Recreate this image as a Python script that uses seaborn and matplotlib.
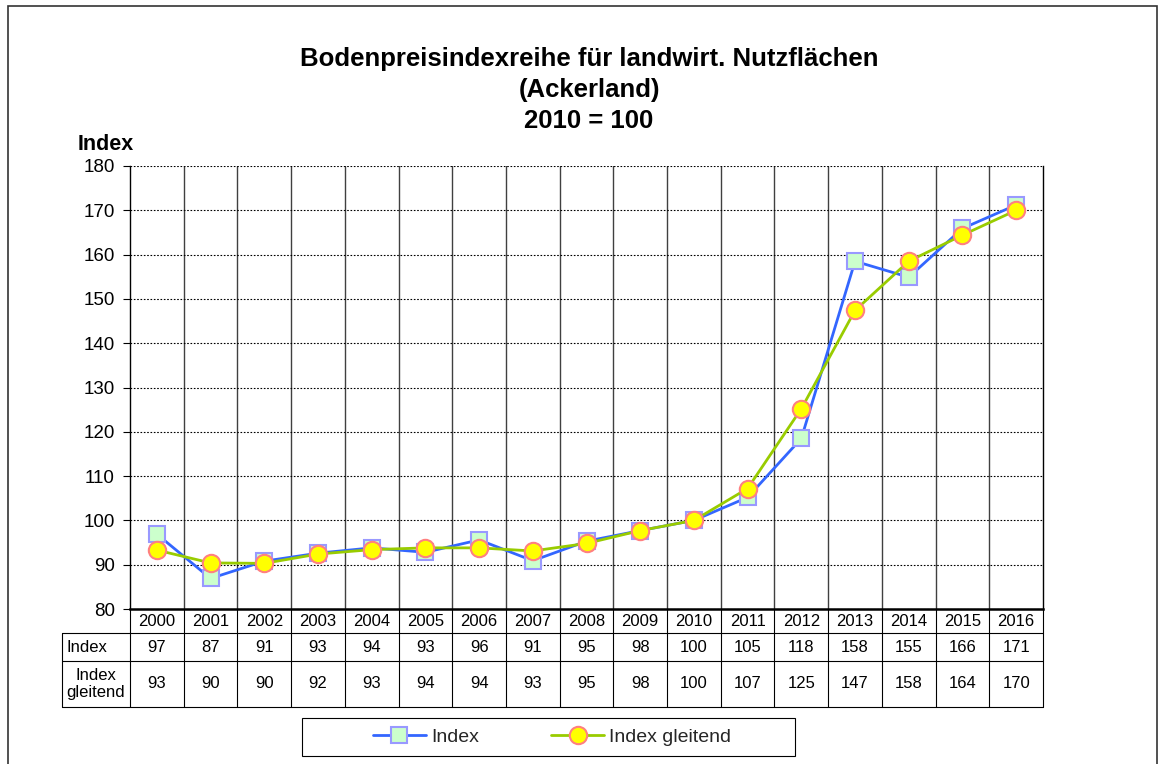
import numpy as np
import pandas as pd
import matplotlib
matplotlib.use("Agg")
import matplotlib.pyplot as plt
import seaborn as sns
from matplotlib.lines import Line2D
from matplotlib.patches import Rectangle
from matplotlib.transforms import blended_transform_factory

# ---------------- data ----------------
years = [2000, 2001, 2002, 2003, 2004, 2005, 2006, 2007, 2008,
         2009, 2010, 2011, 2012, 2013, 2014, 2015, 2016]
index_vals = [96.9, 86.9, 90.8, 92.6, 93.8, 92.8, 95.6, 90.9, 95.3,
              97.7, 100.0, 105.2, 118.5, 158.5, 154.9, 165.9, 171.2]
gleitend_vals = [93.3, 90.4, 90.3, 92.4, 93.4, 93.8, 93.8, 93.1, 94.8,
                 97.7, 100.0, 107.2, 125.2, 147.4, 158.5, 164.4, 170.0]
index_table = [97, 87, 91, 93, 94, 93, 96, 91, 95, 98, 100, 105, 118, 158, 155, 166, 171]
gleitend_table = [93, 90, 90, 92, 93, 94, 94, 93, 95, 98, 100, 107, 125, 147, 158, 164, 170]
y_ticks = [80, 90, 100, 110, 120, 130, 140, 150, 160, 170, 180]
series_names = ["Index", "Index gleitend"]
row_labels = ["Index", "Index\ngleitend"]
title = "Bodenpreisindexreihe für landwirt. Nutzflächen\n(Ackerland)\n2010 = 100"
y_label = "Index"

# ---------------- style ----------------
sns.set_theme(style="white")
plt.rcParams["font.family"] = ["Liberation Sans", "DejaVu Sans"]

W, H = 1162, 764
fig = plt.figure(figsize=(W / 100, H / 100), dpi=100)
fx = lambda px: px / W
fy = lambda py: 1 - py / H

L, R, T, B = 130, 1043, 166, 609
ax = fig.add_axes([fx(L), fy(B), fx(R) - fx(L), fy(T) - fy(B)])

pos = np.arange(len(years))
df = pd.DataFrame({"pos": pos, "Index": index_vals, "Index gleitend": gleitend_vals})

sns.lineplot(data=df, x="pos", y="Index", ax=ax, color="#3366ff", lw=2.0,
             marker="s", markersize=11.5, markerfacecolor="#ccffcc",
             markeredgecolor="#9999ff", markeredgewidth=1.5, legend=False, zorder=3)
sns.lineplot(data=df, x="pos", y="Index gleitend", ax=ax, color="#99cc00", lw=2.0,
             marker="o", markersize=12.5, markerfacecolor="#ffff00",
             markeredgecolor="#ff8080", markeredgewidth=1.5, legend=False, zorder=4)

ax.set_xlim(-0.5, len(years) - 0.5)
ax.set_ylim(y_ticks[0], y_ticks[-1])
ax.set_yticks(y_ticks)
ax.set_yticklabels([str(v) for v in y_ticks], fontsize=13.5)
ax.set_xticks([])
ax.set_xticks(np.arange(0.5, len(years) - 0.5, 1), minor=True)
ax.tick_params(axis="x", which="both", length=0, labelbottom=False)
ax.tick_params(axis="y", which="major", length=5, width=0.8, color="black",
               direction="out", left=True, pad=6, labelcolor="black")
ax.set_xlabel("")
ax.set_ylabel("")
ax.grid(False)
ax.yaxis.grid(True, which="major", color="black", linestyle=(0, (1.5, 1.5)), lw=0.8)
ax.xaxis.grid(True, which="minor", color="#404040", linestyle="-", lw=1.0)
for side in ["left", "right"]:
    ax.spines[side].set_color("black")
    ax.spines[side].set_linewidth(1.0)
ax.spines["bottom"].set_color("black")
ax.spines["bottom"].set_linewidth(1.8)
ax.spines["top"].set_visible(False)

# ---------------- title & label ----------------
fig.text(fx(589), fy(90), title, ha="center", va="center", fontsize=18.5,
         fontweight="bold", linespacing=1.35, color="black")
fig.text(fx(78), fy(145), y_label, ha="left", va="center", fontsize=15.5,
         fontweight="bold", color="black")

# ---------------- data table ----------------
tr = blended_transform_factory(ax.transData, fig.transFigure)
n = len(years)
r0, r1, r2, r3 = 609, 633, 661, 707
xl = -0.5
xlab = xl - (L - 62) / ((R - L) / n)  # label column left edge in data units
fs_tab = 12

def hline(x0, x1, py, lw=0.8):
    fig.add_artist(Line2D([x0, x1], [fy(py), fy(py)], transform=tr, color="black", lw=lw))

def vline(x, py0, py1, lw=0.8):
    fig.add_artist(Line2D([x, x], [fy(py0), fy(py1)], transform=tr, color="black", lw=lw))

for py in (r1, r2, r3):
    hline(xlab, n - 0.5, py)
for i in range(n + 1):
    vline(i - 0.5, r0, r3)
vline(xlab, r1, r3)

for i, yr in enumerate(years):
    fig.text(i, fy((r0 + r1) / 2), str(yr), transform=tr, ha="center", va="center",
             fontsize=fs_tab, color="black")
    fig.text(i, fy((r1 + r2) / 2), str(index_table[i]), transform=tr, ha="center",
             va="center", fontsize=fs_tab, color="black")
    fig.text(i, fy((r2 + r3) / 2), str(gleitend_table[i]), transform=tr, ha="center",
             va="center", fontsize=fs_tab, color="black")

fig.text(xlab + 0.09, fy((r1 + r2) / 2), row_labels[0], transform=tr, ha="left",
         va="center", fontsize=fs_tab, color="black")
fig.text((xlab + xl) / 2, fy((r2 + r3) / 2), row_labels[1], transform=tr, ha="center",
         va="center", fontsize=fs_tab, linespacing=1.15, color="black")

# ---------------- legend ----------------
handles = [ax.lines[0], ax.lines[1]]
leg = fig.legend(handles, series_names, loc="center", bbox_to_anchor=(fx(552), fy(737)),
                 ncol=2, frameon=False, fontsize=14, handlelength=2.75,
                 handletextpad=0.25, columnspacing=3.7)
fig.add_artist(Rectangle((fx(302), fy(756)), fx(795) - fx(302), fy(718) - fy(756),
                         transform=fig.transFigure, fill=False, edgecolor="black", lw=0.8))

# ---------------- outer frame ----------------
fig.add_artist(Rectangle((fx(8), fy(790)), fx(1157) - fx(8), fy(6) - fy(790),
                         transform=fig.transFigure, fill=False, edgecolor="#333333", lw=1.2))

fig.savefig("out.png", dpi=100, facecolor="white")
